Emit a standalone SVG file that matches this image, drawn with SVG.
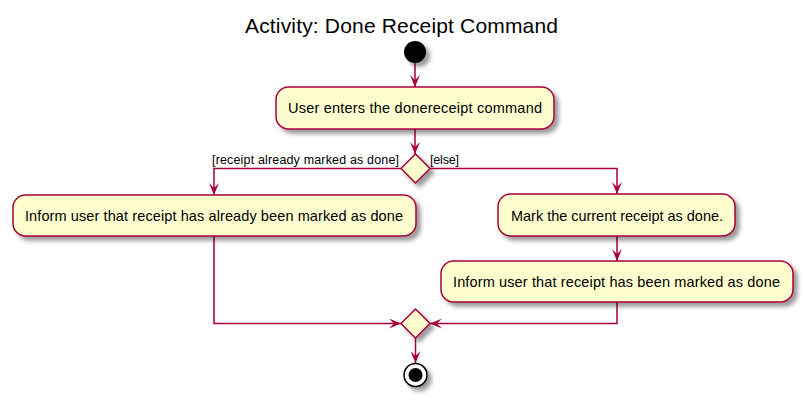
<svg xmlns="http://www.w3.org/2000/svg" width="805" height="400" viewBox="0 0 805 400">
<style>
.act{fill:#FEFECE;stroke:#A80036;stroke-width:1.5;filter:url(#sh)}
.dia{fill:#FEFECE;stroke:#A80036;stroke-width:1.5;filter:url(#sh)}
.t{font-family:"Liberation Sans",Arial,sans-serif;font-size:14.5px;fill:#000;text-anchor:middle}
.lbl{font-family:"Liberation Sans",Arial,sans-serif;font-size:12.5px;fill:#000}
.title{font-family:"Liberation Sans",Arial,sans-serif;font-size:21px;fill:#000;text-anchor:middle}
.c{fill:none;stroke:#A80036;stroke-width:1.5}
</style>
<defs>
<filter id="sh" x="-20%" y="-20%" width="150%" height="160%">
<feGaussianBlur in="SourceAlpha" stdDeviation="2"/>
<feOffset dx="4" dy="4" result="o"/>
<feComponentTransfer><feFuncA type="linear" slope="0.4"/></feComponentTransfer>
<feMerge><feMergeNode/><feMergeNode in="SourceGraphic"/></feMerge>
</filter>
<marker id="ah" viewBox="0 0 12 10" refX="12" refY="5" markerWidth="12" markerHeight="10" markerUnits="userSpaceOnUse" orient="auto">
<path d="M0,0 L12,5 L0,10 L5,5 Z" fill="#A80036"/>
</marker>
</defs>
<rect width="805" height="400" fill="#FFFFFF"/>
<text class="title" x="401.5" y="33" textLength="313" lengthAdjust="spacing">Activity: Done Receipt Command</text>

<g id="connectors">
<path class="c" d="M415,63 V87" marker-end="url(#ah)"/>
<path class="c" d="M415,129 V154" marker-end="url(#ah)"/>
<path class="c" d="M401,168.5 H214 V195" marker-end="url(#ah)"/>
<path class="c" d="M430,168.5 H617 V194" marker-end="url(#ah)"/>
<path class="c" d="M214,236 V323.5 H401" marker-end="url(#ah)"/>
<path class="c" d="M617,236 V261" marker-end="url(#ah)"/>
<path class="c" d="M617,302 V323.5 H430" marker-end="url(#ah)"/>
<path class="c" d="M415.5,338 V363" marker-end="url(#ah)"/>
<text class="lbl" x="399" y="164" text-anchor="end" textLength="187" lengthAdjust="spacing">[receipt already marked as done]</text>
<text class="lbl" x="430" y="164" textLength="29" lengthAdjust="spacing">[else]</text>
</g>

<g id="start">
<circle cx="415" cy="52" r="11" fill="#000" filter="url(#sh)"/>
</g>

<g id="userEnters">
<rect class="act" x="276" y="87" width="278" height="42" rx="12.5" ry="12.5"/>
<text class="t" x="415" y="113" textLength="254" lengthAdjust="spacing">User enters the donereceipt command</text>
</g>

<g id="decision">
<polygon class="dia" points="415.5,154 430,168.5 415.5,183 401,168.5"/>
</g>

<g id="informAlready">
<rect class="act" x="13" y="195" width="403" height="41" rx="12.5" ry="12.5"/>
<text class="t" x="214" y="220.5" textLength="378" lengthAdjust="spacing">Inform user that receipt has already been marked as done</text>
</g>

<g id="markDone">
<rect class="act" x="498" y="194" width="237" height="42" rx="12.5" ry="12.5"/>
<text class="t" x="617" y="220.5" textLength="212" lengthAdjust="spacing">Mark the current receipt as done.</text>
</g>

<g id="informMarked">
<rect class="act" x="441" y="261" width="352" height="41" rx="12.5" ry="12.5"/>
<text class="t" x="616.5" y="286.5" textLength="327" lengthAdjust="spacing">Inform user that receipt has been marked as done</text>
</g>

<g id="merge">
<polygon class="dia" points="415.5,309 430,323.5 415.5,338 401,323.5"/>
</g>

<g id="end">
<circle cx="415.5" cy="375" r="11.5" fill="#FFFFFF" stroke="#000" stroke-width="1.5" filter="url(#sh)"/>
<circle cx="415.5" cy="375" r="7" fill="#000"/>
</g>
</svg>
